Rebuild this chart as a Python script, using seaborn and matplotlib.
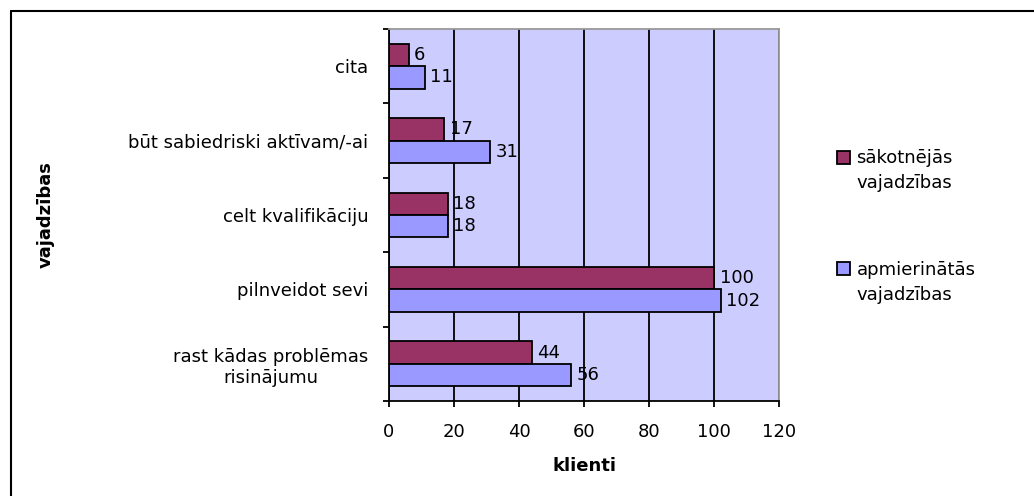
import numpy as np
import pandas as pd
import seaborn as sns
import matplotlib
matplotlib.use("Agg")
import matplotlib.pyplot as plt
from matplotlib.patches import Rectangle
from matplotlib.legend_handler import HandlerPatch
from matplotlib.lines import Line2D

# ---- data ----
categories = ["cita", "būt sabiedriski aktīvam/-ai", "celt kvalifikāciju",
              "pilnveidot sevi", "rast kādas problēmas\nrisinājumu"]
initial_needs = [6, 17, 18, 100, 44]
met_needs = [11, 31, 18, 102, 56]
series_names = ["sākotnējās\nvajadzības", "apmierinātās\nvajadzības"]
series_colors = ["#993366", "#9999FF"]
x_ticks = [0, 20, 40, 60, 80, 100, 120]

df = pd.DataFrame({
    "vajadzības": categories * 2,
    "klienti": initial_needs + met_needs,
    "series": [series_names[0]] * len(categories) + [series_names[1]] * len(categories),
})

sns.set_theme(style="white")
plt.rcParams["font.family"] = ["DejaVu Sans"]
FS = 13

W, H = 1034, 496
fig = plt.figure(figsize=(W / 100, H / 100), dpi=100)
fig.patch.set_facecolor("white")
ax = fig.add_axes([389 / W, 1 - 401 / H, 390 / W, 372 / H])
ax.set_facecolor("#CCCCFF")

sns.barplot(data=df, y="vajadzības", x="klienti", hue="series",
            hue_order=series_names, order=categories, palette=series_colors,
            saturation=1, width=0.6, edgecolor="black", linewidth=1.3, orient="h",
            legend=False, ax=ax)

for c in ax.containers:
    ax.bar_label(c, padding=4, fontsize=FS, color="black")

ax.set_xlim(0, 120)
ax.set_ylim(len(categories) - 0.5, -0.5)
ax.set_xticks(x_ticks)
ax.xaxis.grid(True, color="black", linewidth=1.3)
ax.yaxis.grid(False)
ax.set_axisbelow(True)

ax.set_yticks(np.arange(-0.5, len(categories), 1), minor=True)
ax.tick_params(axis="y", which="major", length=0, pad=15, labelsize=FS, colors="black")
ax.tick_params(axis="y", which="minor", length=4, width=1.3, direction="out", color="black", left=True)
ax.tick_params(axis="x", which="major", length=4.5, width=1.3, direction="out", color="black",
               pad=11, labelsize=FS, bottom=True, labelcolor="black")
for lbl in ax.get_yticklabels():
    lbl.set_multialignment("center")

for s in ["left", "bottom"]:
    ax.spines[s].set_color("black")
    ax.spines[s].set_linewidth(1.3)
for s in ["top", "right"]:
    ax.spines[s].set_color("#999999")
    ax.spines[s].set_linewidth(1.3)

ax.set_xlabel("klienti", fontsize=FS, fontweight="bold", color="black")
ax.set_ylabel("vajadzības", fontsize=FS, fontweight="bold", color="black")
ax.xaxis.set_label_coords(0.5, -(457 - 401) / 372)
ax.xaxis.label.set_va("top")
ax.yaxis.set_label_coords((55 - 389) / 390, 0.5)


class TopSquare(HandlerPatch):
    def create_artists(self, legend, orig_handle, xdescent, ydescent, width, height, fontsize, trans):
        s = 9.5
        up = 4.0
        p = Rectangle((-xdescent, -ydescent + height - s + up), s, s,
                      facecolor=orig_handle.get_facecolor(), edgecolor="black",
                      linewidth=1.3, transform=trans)
        return [p]


handles = [Rectangle((0, 0), 1, 1, facecolor=col, edgecolor="black") for col in series_colors]
leg = fig.legend(handles, series_names, loc="upper left",
                 bbox_to_anchor=(837 / W, 1 - 149 / H), frameon=False, fontsize=FS,
                 handlelength=9.5 / FS, handleheight=2.3, handletextpad=4.5 / FS,
                 labelspacing=3.8, borderpad=0, borderaxespad=0,
                 handler_map={Rectangle: TopSquare()})
for t in leg.get_texts():
    t.set_linespacing(1.5)
    t.set_color("black")

fig.add_artist(Line2D([11 / W, 1], [1 - 11 / H, 1 - 11 / H], transform=fig.transFigure,
                      color="black", linewidth=1.5))
fig.add_artist(Line2D([11 / W, 11 / W], [0, 1 - 11 / H], transform=fig.transFigure,
                      color="black", linewidth=1.5))

fig.savefig("out.png", dpi=100, facecolor="white")
